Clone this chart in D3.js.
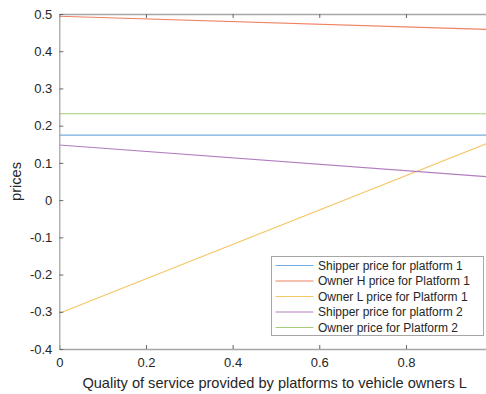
<!DOCTYPE html>
<html>
<head>
<meta charset="utf-8">
<script src="https://cdn.jsdelivr.net/npm/d3@7"></script>
<style>
  html, body { margin: 0; padding: 0; background: #fff; }
  svg { display: block; font-family: "Liberation Sans", Arial, Helvetica, sans-serif; }
</style>
</head>
<body>
<svg id="chart" width="486" height="394"></svg>
<script>
// Quality level L at the two ends of the sweep
const quality = [0, 1];

// Price curves (value at each quality level)
const shipperP1 = [0.1745, 0.1745];
const ownerHP1  = [0.494, 0.458];
const ownerLP1  = [-0.304, 0.158];
const shipperP2 = [0.148, 0.062];
const ownerP2   = [0.232, 0.232];

const seriesNames = [
  "Shipper price for platform 1",
  "Owner H price for Platform 1",
  "Owner L price for Platform 1",
  "Shipper price for platform 2",
  "Owner price for Platform 2"
];
const seriesValues = [shipperP1, ownerHP1, ownerLP1, shipperP2, ownerP2];
const seriesColors = ["#74addf", "#ef8262", "#f4c766", "#b27cc0", "#a5cd7c"];

const xTicks = [0, 0.2, 0.4, 0.6, 0.8];
const yTicks = [-0.4, -0.3, -0.2, -0.1, 0, 0.1, 0.2, 0.3, 0.4, 0.5];

const svg = d3.select("#chart");
const plotLeft = 59.3, plotTop = 14, plotBottom = 349, plotRight = 492.6;

const x = d3.scaleLinear().domain([0, 1]).range([plotLeft, plotRight]);
const y = d3.scaleLinear().domain([-0.4, 0.5]).range([plotBottom, plotTop]);

const axisColor = "#a6a6a6";
const textColor = "#262626";

// Series lines
const line = d3.line().x((d, i) => x(quality[i])).y(d => y(d));
const g = svg.append("g");
seriesValues.forEach((vals, k) => {
  g.append("path")
    .attr("d", line(vals))
    .attr("fill", "none")
    .attr("stroke", seriesColors[k])
    .attr("stroke-width", 1.2);
});

// Axes (box style, ticks pointing inward)
const fmt = d => d === 0 ? "0" : d3.format(".1f")(d).replace("−", "-");

const xAxis = svg.append("g").attr("transform", `translate(0,${plotBottom})`)
  .call(d3.axisBottom(x).tickValues(xTicks).tickSizeInner(-4).tickSizeOuter(0).tickPadding(9).tickFormat(fmt));
const xAxisTop = svg.append("g").attr("transform", `translate(0,${plotTop})`)
  .call(d3.axisTop(x).tickValues(xTicks).tickSizeInner(-4).tickSizeOuter(0).tickFormat(""));
const yAxis = svg.append("g").attr("transform", `translate(${plotLeft},0)`)
  .call(d3.axisLeft(y).tickValues(yTicks).tickSizeInner(-4).tickSizeOuter(0).tickPadding(7).tickFormat(fmt));

[xAxis, xAxisTop, yAxis].forEach(a => {
  a.select(".domain").attr("stroke", axisColor).attr("stroke-width", 1.3);
  a.selectAll(".tick line").attr("stroke", "#666").attr("stroke-width", 1);
  a.selectAll(".tick text").attr("fill", textColor).attr("font-size", 13)
    .attr("font-family", "'Liberation Sans', Arial, sans-serif");
});

// Axis titles
svg.append("text")
  .attr("x", (plotLeft + 486) / 2 + 2).attr("y", 388)
  .attr("text-anchor", "middle").attr("font-size", 14.6).attr("fill", textColor)
  .text("Quality of service provided by platforms to vehicle owners L");
svg.append("text")
  .attr("transform", `translate(21,${(plotTop + plotBottom) / 2}) rotate(-90)`)
  .attr("text-anchor", "middle").attr("font-size", 14.6).attr("fill", textColor)
  .text("prices");

// Legend
const lg = svg.append("g").attr("transform", "translate(271.5,256.5)");
lg.append("rect").attr("width", 212).attr("height", 79)
  .attr("fill", "#fff").attr("stroke", "#a6a6a6").attr("stroke-width", 1);
seriesNames.forEach((name, k) => {
  const yy = 9 + k * 15.5;
  lg.append("line").attr("x1", 4).attr("x2", 42).attr("y1", yy).attr("y2", yy)
    .attr("stroke", seriesColors[k]).attr("stroke-width", 1.2);
  lg.append("text").attr("x", 46.5).attr("y", yy + 4)
    .attr("font-size", 12).attr("fill", textColor).text(name);
});
</script>
</body>
</html>
